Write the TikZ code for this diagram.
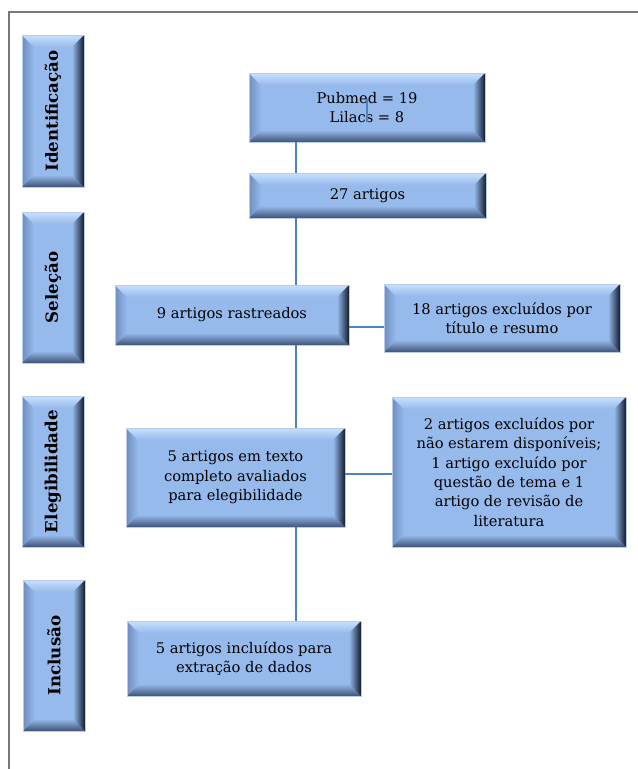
\documentclass[tikz,border=0pt]{standalone}
\usepackage{fontspec}
\setmainfont{DejaVu Serif}
\usetikzlibrary{calc}
\definecolor{facec}{RGB}{150,186,236}
\definecolor{topc}{RGB}{200,224,252}
\definecolor{leftc}{RGB}{112,142,192}
\definecolor{botmid}{RGB}{112,142,188}
\definecolor{botc}{RGB}{62,82,118}
\definecolor{rightmid}{RGB}{88,114,158}
\definecolor{rightc}{RGB}{18,26,44}
\definecolor{edgec}{RGB}{185,205,235}
\definecolor{linec}{RGB}{79,129,189}
\definecolor{framec}{RGB}{120,120,120}
\newcommand\labfont{\fontsize{12.5}{14}\selectfont\bfseries}
\newlength\bv
\setlength\bv{9pt}
\tikzset{
  sz/.style 2 args={minimum width=#1*0.75pt, minimum height=#2*0.75pt},
  bevelbox/.style={draw=edgec, line width=0.5pt, fill=facec, inner sep=0pt,
    align=center, font=\fontsize{11}{14.6}\selectfont, text=black,
    path picture={
      \coordinate (bnw) at (path picture bounding box.north west);
      \coordinate (bne) at (path picture bounding box.north east);
      \coordinate (bsw) at (path picture bounding box.south west);
      \coordinate (bse) at (path picture bounding box.south east);
      \shade[left color=leftc, right color=facec] (bnw) -- ([shift={(\bv,-\bv)}]bnw) -- ([shift={(\bv,\bv)}]bsw) -- (bsw) -- cycle;
      \shade[top color=topc, bottom color=facec] (bnw) -- (bne) -- ([shift={(-\bv,-\bv)}]bne) -- ([shift={(\bv,-\bv)}]bnw) -- cycle;
      \shade[top color=facec, middle color=botmid, bottom color=botc] (bsw) -- ([shift={(\bv,\bv)}]bsw) -- ([shift={(-\bv,\bv)}]bse) -- (bse) -- cycle;
      \shade[left color=facec, middle color=rightmid, right color=rightc] (bne) -- (bse) -- ([shift={(-\bv,\bv)}]bse) -- ([shift={(-\bv,-\bv)}]bne) -- cycle;
    }},
  conn/.style={draw=linec, line width=1.4pt}
}
\begin{document}
\begin{tikzpicture}[x=0.75pt, y=-0.75pt]
\useasboundingbox (0,0) rectangle (638,769);
% frame
\coordinate (f1) at (9,769);
\coordinate (f2) at (9,12);
\coordinate (f3) at (638,12);
\draw[framec, line width=0.8pt] (f1) -- (f2) -- (f3);
% connector helpers
\coordinate (spine) at (296,0);
\coordinate (r1) at (0,327);
\coordinate (r2) at (0,474);
% stage labels
\node[bevelbox, sz={62}{152}] (lid) at (53,111) {\rotatebox{90}{\labfont Identificação}};
\node[bevelbox, sz={62}{151}] (lsel) at (53,287.5) {\rotatebox{90}{\labfont Seleção}};
\node[bevelbox, sz={62}{151}] (lele) at (53,471.5) {\rotatebox{90}{\labfont Elegibilidade}};
\node[bevelbox, sz={62}{151}] (linc) at (54,655.5) {\rotatebox{90}{\labfont Inclusão}};
% flow boxes
\node[bevelbox, sz={236}{69}] (pub) at (367,107.5) {Pubmed = 19\\Lilacs = 8};
\node[bevelbox, sz={237}{45}] (a27) at (367.5,195.5) {27 artigos};
\node[bevelbox, sz={234}{60}] (ras) at (232,315) {9 artigos rastreados};
\node[bevelbox, sz={236}{68}] (exc18) at (502,318) {18 artigos excluídos por\\título e resumo};
\node[bevelbox, sz={219}{99}] (aval) at (235.5,477.5) {5 artigos em texto\\completo avaliados\\para elegibilidade};
\node[bevelbox, sz={234}{150}] (exc2) at (509,472) {2 artigos excluídos por\\não estarem disponíveis;\\1 artigo excluído por\\questão de tema e 1\\artigo de revisão de\\literatura};
\node[bevelbox, sz={234}{75}] (incl) at (244,658.5) {5 artigos incluídos para\\extração de dados};
% connectors
\draw[conn] (pub.south -| spine) -- (a27.north -| spine);
\draw[conn] (a27.south -| spine) -- (ras.north -| spine);
\draw[conn] (ras.south -| spine) -- (aval.north -| spine);
\draw[conn] (aval.south -| spine) -- (incl.north -| spine);
\draw[conn] (ras.east |- r1) -- (exc18.west |- r1);
\draw[conn] (aval.east |- r2) -- (exc2.west |- r2);
\coordinate (s1) at (367,99);
\coordinate (s2) at (367,122);
\draw[conn] (s1) -- (s2);
\end{tikzpicture}
\end{document}
